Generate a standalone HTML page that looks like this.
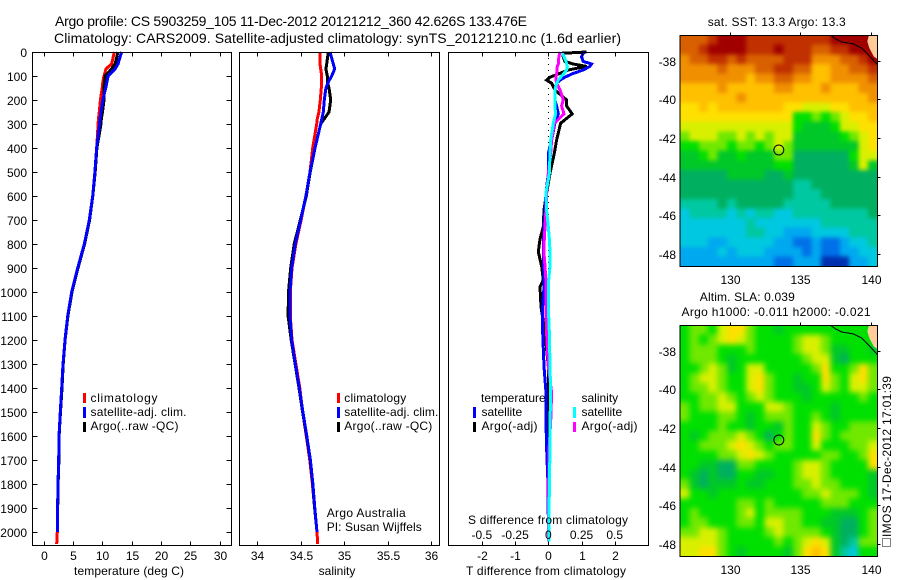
<!DOCTYPE html>
<html>
<head>
<meta charset="utf-8">
<title>Argo profile</title>
<style>
html,body{margin:0;padding:0;background:#fff;}
svg{display:block;font-family:"Liberation Sans",sans-serif;font-size:12px;fill:#000;}
.m{text-anchor:middle;}
.e{text-anchor:end;}
</style>
</head>
<body>
<svg id="chart" xmlns="http://www.w3.org/2000/svg" width="900" height="580" viewBox="0 0 900 580">
<defs>
<filter id="blur-sst" filterUnits="userSpaceOnUse" x="640" y="0" width="260" height="580" color-interpolation-filters="sRGB"><feGaussianBlur stdDeviation="2"/></filter>
<filter id="blur-sla" filterUnits="userSpaceOnUse" x="640" y="0" width="260" height="580" color-interpolation-filters="sRGB"><feGaussianBlur stdDeviation="3"/></filter>
<clipPath id="clip-sst"><rect x="680" y="35" width="197.5" height="232"/></clipPath>
<clipPath id="clip-sla"><rect x="680" y="325" width="197.5" height="232"/></clipPath>
</defs>
<rect width="900" height="580" fill="#fff"/>
<g id="layer-maps"></g>
<g id="layer-lines"></g>
<g id="layer-axes"></g>
<text x="55" y="26" font-size="14" textLength="472">Argo profile: CS 5903259_105 11-Dec-2012 20121212_360 42.626S 133.476E</text>
<text x="54" y="43" font-size="14" textLength="567">Climatology: CARS2009. Satellite-adjusted climatology: synTS_20121210.nc (1.6d earlier)</text>

<text class="m" x="129" y="575" textLength="110">temperature (deg C)</text>
<text class="m" x="337" y="575">salinity</text>
<text class="m" x="546" y="575" textLength="160">T difference from climatology</text>
<text class="m" x="548" y="524" textLength="160">S difference from climatology</text>

<g>
<rect x="83" y="393" width="3" height="10" fill="#f00"/>
<rect x="83" y="407" width="3" height="11" fill="#00f"/>
<rect x="83" y="422" width="3" height="10" fill="#000"/>
<text x="90.5" y="402" textLength="67">climatology</text>
<text x="90.5" y="416" textLength="96">satellite-adj. clim.</text>
<text x="90.5" y="430" textLength="88">Argo(..raw -QC)</text>
</g>
<g>
<rect x="337" y="393" width="3" height="10" fill="#f00"/>
<rect x="337" y="407" width="3" height="11" fill="#00f"/>
<rect x="337" y="422" width="3" height="10" fill="#000"/>
<text x="344.3" y="402" textLength="62">climatology</text>
<text x="344.3" y="416" textLength="94">satellite-adj. clim.</text>
<text x="344.3" y="430" textLength="88">Argo(..raw -QC)</text>
</g>
<text x="326.7" y="517" textLength="79">Argo Australia</text>
<text x="326.7" y="531" textLength="95">PI: Susan Wijffels</text>
<g>
<text x="481" y="402">temperature</text>
<text x="581.5" y="402">salinity</text>
<rect x="473" y="407" width="3" height="11" fill="#00f"/>
<rect x="473" y="422" width="3" height="10" fill="#000"/>
<rect x="573" y="407" width="3" height="11" fill="#0ff"/>
<rect x="573" y="422" width="3" height="10" fill="#f0f"/>
<text x="481.5" y="416">satellite</text>
<text x="481.5" y="430" textLength="56">Argo(-adj)</text>
<text x="581.5" y="416">satellite</text>
<text x="581.5" y="430" textLength="56">Argo(-adj)</text>
</g>

<text class="m" x="776.7" y="26" textLength="138">sat. SST: 13.3 Argo: 13.3</text>
<text class="m" x="747.3" y="301" textLength="95">Altim. SLA: 0.039</text>
<text class="m" x="776" y="316" textLength="189">Argo h1000: -0.011 h2000: -0.021</text>
<g transform="translate(891,537) rotate(-90)">
<text x="0" y="0" textLength="161">IMOS 17-Dec-2012 17:01:39</text>
<rect x="-9.5" y="-8.5" width="8" height="8" fill="none" stroke="#000" stroke-width="1" stroke-dasharray="1 1"/>
</g>
</svg>
<script>
// ---- profile data (depth in m) ----
var profileDepths = [0,50,70,100,125,150,200,250,280,300,400,500,600,700,800,900,1000,1100,1200,1300,1400,1500,1600,1700,1800,1900,2000,2050];
var tempClim = [12.07,11.6,10.65,10.3,10.1,10.0,9.7,9.5,9.35,9.3,9.06,8.76,8.38,7.81,6.95,5.83,4.8,4.12,3.66,3.32,3.1,2.86,2.64,2.59,2.47,2.4,2.35,2.25];
var tempSat = [13.3,12.7,12.2,11.0,10.8,10.6,10.1,9.8,9.6,9.55,9.05,8.76,8.38,7.81,6.95,5.83,4.8,4.12,3.66,3.32,3.1,2.86,2.64,2.59,2.47,2.4,2.35,null];
var tempArgo = [12.7,12.2,11.6,10.5,10.4,10.3,10.3,10.05,9.85,9.8,9.1,8.8,8.4,7.85,7.0,5.88,4.85,4.15,3.68,3.36,3.16,2.9,2.66,2.62,2.48,2.42,2.35,null];
var salClim = [34.722,34.722,34.73,34.742,34.742,34.737,34.726,34.71,34.69,34.684,34.638,34.607,34.56,34.505,34.445,34.4,34.38,34.38,34.4,34.445,34.49,34.523,34.565,34.605,34.635,34.66,34.688,34.696];
var salSat = [34.838,34.876,34.892,34.857,34.818,34.79,34.772,34.76,34.742,34.73,34.665,34.607,34.56,34.5,34.438,34.396,34.377,34.377,34.396,34.438,34.484,34.525,34.57,34.612,34.64,34.662,34.688,null];
var salArgo = [34.818,34.8,34.79,34.806,34.806,34.826,34.846,34.826,34.768,34.73,34.665,34.61,34.565,34.495,34.425,34.385,34.36,34.355,34.39,34.435,34.48,34.522,34.568,34.61,34.638,34.66,34.688,null];

var diffDepths = [0,5,20,39,50,60,75,89,105,117,130,158,200,225,258,297,367,422,505,588,658,728,780,832,894,950,978,1061,1172,1310,1420,1540,1650,1800,1950,2040];
var diffTArgo = [1.15,0.45,0.45,0.5,0.75,1.15,0.6,0.35,0.05,-0.05,0.1,0.2,0.55,0.55,0.72,0.37,0.25,0.18,0.05,-0.05,-0.13,-0.15,-0.25,-0.3,-0.2,-0.15,-0.25,-0.22,-0.1,0,0,0,0,0,0,0];
var diffTSat = [1.1,1.05,1.0,1.05,1.3,1.25,1.05,0.75,0.5,0.35,0.25,0.2,0.2,0.25,0.3,0.2,0.1,0,0,-0.07,-0.1,-0.13,-0.14,-0.15,-0.14,-0.13,-0.13,-0.17,-0.17,-0.13,-0.07,-0.07,-0.05,-0.01,0,0];
var diffSArgo = [0.088,0.085,0.08,0.075,0.075,0.068,0.065,0.063,0.058,0.058,0.063,0.088,0.113,0.1,0.118,0.045,0.025,0.018,0,-0.012,-0.018,-0.025,-0.03,-0.033,-0.025,-0.018,-0.018,-0.018,-0.013,0,0.025,0.018,0.006,0.003,0.003,0.003];
var diffSSat = [0.108,0.108,0.118,0.133,0.138,0.143,0.138,0.118,0.093,0.075,0.063,0.05,0.05,0.05,0.055,0.038,0.018,0.013,0.008,-0.018,-0.013,0,0.008,0.013,0.013,0.003,0.003,0,0.008,0.013,0.018,0.013,0.013,0.008,0.005,0.005];

// ---- tick labels ----
var depthTicks = [0,100,200,300,400,500,600,700,800,900,1000,1100,1200,1300,1400,1500,1600,1700,1800,1900,2000];
var tempTicks = [0,5,10,15,20,25,30];
var salTicks = [34,34.5,35,35.5,36];
var diffTTicks = [-2,-1,0,1,2];
var diffSTicks = [-0.5,-0.25,0,0.25,0.5];
var mapLonTicks = [130,135,140];
var mapLatTicks = [-38,-40,-42,-44,-46,-48];
var argoLon = 133.476;
var argoLat = -42.626;

// ---- map data: colour-level per grid cell, north to south, west to east ----
var sstLevels = [
[13,13,13,14,15,15,15,14,14,14,14,14,14,14,14,14,15,15,15,15,15],
[13,13,14,15,15,15,15,14,14,14,15,14,14,14,13,13,14,14,15,15,15],
[12,13,13,14,14,13,14,13,13,13,13,14,14,14,12,12,12,13,13,14,15],
[12,12,12,12,13,12,12,12,13,13,14,14,13,13,11,11,12,12,13,13,14],
[12,12,12,12,12,12,12,11,12,12,13,13,12,12,11,11,12,12,12,12,13],
[11,11,11,11,12,11,11,11,11,11,12,12,11,11,11,12,11,11,11,12,12],
[11,11,11,11,11,11,12,11,11,11,11,11,11,11,11,11,11,11,11,11,12],
[10,10,11,10,11,11,11,11,11,11,11,10,10,9,9,9,10,10,11,11,11],
[10,10,10,10,10,10,10,10,10,10,10,10,7,7,8,7,8,9,10,10,11],
[9,9,9,9,9,9,9,9,9,9,9,9,7,6,6,6,7,9,9,10,10],
[8,9,9,9,8,8,9,8,9,8,9,9,6,6,6,6,6,7,8,9,10],
[7,7,8,8,8,7,8,8,7,8,9,8,6,6,6,6,6,6,6,9,10],
[6,6,7,8,6,6,7,6,6,6,8,8,5,5,5,5,5,5,7,9,9],
[6,6,6,6,6,6,6,6,6,6,7,7,5,5,5,5,5,5,6,9,6],
[5,5,5,5,5,6,6,6,6,5,5,6,5,5,5,5,5,5,5,5,5],
[5,5,5,5,5,5,5,5,5,5,5,5,4,4,5,5,5,5,5,5,5],
[5,5,5,5,5,5,5,5,5,5,5,5,4,4,4,5,5,5,5,5,5],
[4,4,4,4,5,4,5,5,5,5,5,4,4,4,4,4,5,5,5,5,5],
[3,4,4,4,4,3,4,3,4,4,3,3,4,4,4,4,4,4,4,4,5],
[3,3,3,3,3,3,3,4,3,3,3,3,3,3,3,4,4,4,4,4,4],
[3,3,3,3,3,3,3,4,4,3,3,2,2,2,3,3,3,3,4,4,4],
[3,3,3,2,2,3,3,3,3,3,2,2,1,1,2,1,1,2,3,3,4],
[2,2,2,2,3,2,3,3,3,2,2,2,2,1,2,1,1,2,2,3,3],
[2,2,2,2,2,2,2,2,2,2,1,1,2,2,2,0,0,0,2,2,3]
];
var slaLevels = [
[7,8,8,7,9,10,10,8,7,7,6,7,7,7,7,7,7,7,7,7,7],
[7,8,7,8,9,10,9,8,7,7,7,7,8,9,9,8,7,7,7,7,7],
[7,8,8,8,7,7,7,8,7,7,7,7,8,9,9,8,6,6,7,7,6],
[7,8,8,8,7,6,7,7,7,7,7,7,7,8,9,9,6,5,7,7,7],
[7,7,8,9,8,6,7,9,9,7,7,7,7,7,8,10,7,7,8,10,8],
[7,8,9,9,8,7,7,9,10,8,7,7,6,7,7,10,8,7,9,10,8],
[7,8,8,9,8,7,7,9,10,8,7,7,6,6,7,9,8,7,9,9,8],
[7,7,8,8,9,8,7,8,9,8,7,7,7,6,7,7,7,7,7,8,7],
[8,7,8,8,9,9,7,7,7,9,9,8,7,7,7,7,6,7,7,7,7],
[8,7,7,7,8,8,7,6,7,8,8,8,7,7,8,7,6,7,7,7,7],
[7,7,7,7,8,7,7,6,7,7,6,8,7,7,9,8,7,7,8,8,8],
[7,6,7,8,8,8,9,8,7,5,7,8,7,7,10,8,7,8,8,8,8],
[7,7,8,8,8,9,10,9,8,7,8,8,7,7,9,7,7,7,8,8,9],
[7,7,7,7,8,8,9,10,9,8,7,7,7,7,7,8,8,7,7,8,10],
[7,7,6,6,5,5,8,8,7,7,7,7,8,9,9,8,7,7,7,7,10],
[7,6,5,6,5,5,7,7,6,6,7,7,8,9,9,8,7,7,7,7,6],
[8,6,5,6,6,6,7,6,6,7,7,7,8,8,9,8,8,7,7,7,6],
[9,7,7,6,7,7,7,7,7,7,7,7,7,8,8,9,8,8,8,7,6],
[7,7,7,7,7,7,8,8,7,8,7,7,7,7,7,8,8,8,7,7,7],
[7,8,7,7,7,7,8,9,7,8,8,8,8,7,7,7,6,6,6,7,8],
[7,8,8,7,7,7,8,8,7,9,9,8,8,7,7,6,6,5,5,7,8],
[8,8,9,9,8,7,7,7,7,8,9,8,8,8,8,7,6,5,5,7,8],
[9,9,9,9,8,7,7,7,7,7,8,7,8,9,10,9,6,5,4,8,8],
[9,9,10,10,8,7,6,7,7,7,7,6,8,10,11,10,6,4,3,7,7]
];
var levelColors = ["#0030b0","#0070e8","#00a8f0","#00c8e0","#00c8a0","#00b060","#00c828","#00e000","#70e800","#d8f000","#ffe000","#ffc000","#f09000","#d86000","#c03000","#a00000"];
var coastLon = [137.1,137.5,137.93,138.75,139.34,139.93,140.45];
var coastLat = [-36.67,-36.87,-37.03,-37.13,-37.34,-37.78,-38.2];
var landLon = [139.86,139.74,139.88,140.2,140.45,140.45];
var landLat = [-36.67,-37,-37.34,-37.78,-37.91,-36.67];

// ---- scales ----
var NS = "http://www.w3.org/2000/svg";
var plotTop = 52, plotBottom = 545;
function yDepth(d){ return 52 + 0.24*d; }
function xTemp(t){ return 43.5 + 5.87*t; }
function xSal(s){ return 257.3 + 86.8*(s-34); }
function xDiffT(t){ return 548.3 + 33.2*t; }
function xDiffS(s){ return 548.3 + 132.8*s; }
function xLon(lon){ return 729.7 + 14.13*(lon-130); }
function mapY(top){ return function(lat){ return top + 25.7 + 19.3*(-38-lat); }; }
var lonMin = 126.48, lonMax = 140.45, latMax = -36.67, latMin = -48.65;

function make(tag, parent, attrs){
  var e = document.createElementNS(NS, tag);
  for (var k in attrs) e.setAttribute(k, attrs[k]);
  parent.appendChild(e);
  return e;
}
var lines = document.getElementById("layer-lines");
var axes = document.getElementById("layer-axes");
var maps = document.getElementById("layer-maps");

function drawLine(depths, values, xf, color, name, width){
  var pts = [];
  for (var i = 0; i < depths.length; i++){
    if (values[i] === null) continue;
    pts.push(xf(values[i]).toFixed(1) + "," + yDepth(depths[i]).toFixed(1));
  }
  var p = make("polyline", lines, {points: pts.join(" "), fill: "none", stroke: color, "stroke-width": width, "shape-rendering": "crispEdges", "stroke-linejoin": "miter"});
  
  
}
function tick(x1, y1, x2, y2, name){
  var l = make("line", axes, {x1: x1, y1: y1, x2: x2, y2: y2, stroke: "#000", "stroke-width": 1, "shape-rendering": "crispEdges"});
  
  
}
function label(x, y, str, anchor, name){
  var t = make("text", axes, {x: x, y: y, "text-anchor": anchor});
  t.textContent = str;
  
  
}
function frame(x, y, w, h, name){
  var r = make("rect", axes, {x: x, y: y, width: w, height: h, fill: "none", stroke: "#000", "stroke-width": 1, "shape-rendering": "crispEdges"});
  
  
}

// ---- profile panels ----
var LW = 3;
drawLine(profileDepths, tempClim, xTemp, "#f00", "temperature-climatology-line", LW);
drawLine(profileDepths, tempArgo, xTemp, "#000", "temperature-argo-line", LW);
drawLine(profileDepths, tempSat, xTemp, "#00f", "temperature-satellite-line", LW);
drawLine(profileDepths, salClim, xSal, "#f00", "salinity-climatology-line", LW);
drawLine(profileDepths, salArgo, xSal, "#000", "salinity-argo-line", LW);
drawLine(profileDepths, salSat, xSal, "#00f", "salinity-satellite-line", LW);

var zeroLine = make("line", lines, {x1: xDiffT(0), y1: plotTop, x2: xDiffT(0), y2: plotBottom, stroke: "#000", "stroke-width": 1, "stroke-dasharray": "1 5", "shape-rendering": "crispEdges"});


drawLine(diffDepths, diffTArgo, xDiffT, "#000", "t-difference-argo-line", LW);
drawLine(diffDepths, diffTSat, xDiffT, "#00f", "t-difference-satellite-line", LW);
drawLine(diffDepths, diffSArgo, xDiffS, "#f0f", "s-difference-argo-line", LW);
drawLine(diffDepths, diffSSat, xDiffS, "#0ff", "s-difference-satellite-line", LW);

frame(32.5, 52.5, 199, 493, "temperature-panel-frame");
frame(239.5, 52.5, 200, 493, "salinity-panel-frame");
frame(448.5, 52.5, 200, 493, "difference-panel-frame");

depthTicks.forEach(function(d){
  var y = Math.round(yDepth(d)) + 0.5;
  tick(32.5, y, 37.5, y, "depth-tick-left");
  tick(226.5, y, 231.5, y, "depth-tick-right");
  label(27, y + 4.5, String(d), "end", "depth-tick-label");
});
tempTicks.forEach(function(t){
  var x = Math.round(xTemp(t)) + 0.5;
  tick(x, 52.5, x, 56.5, "temperature-tick-top");
  tick(x, 541.5, x, 545.5, "temperature-tick-bottom");
  label(x, 560, String(t), "middle", "temperature-tick-label");
});
salTicks.forEach(function(s){
  var x = Math.round(xSal(s)) + 0.5;
  tick(x, 52.5, x, 56.5, "salinity-tick-top");
  tick(x, 541.5, x, 545.5, "salinity-tick-bottom");
  label(x, 560, String(s), "middle", "salinity-tick-label");
});
diffTTicks.forEach(function(t){
  var x = Math.round(xDiffT(t)) + 0.5;
  tick(x, 52.5, x, 56.5, "difference-tick-top");
  tick(x, 541.5, x, 545.5, "difference-tick-bottom");
  label(x, 560, String(t), "middle", "t-difference-tick-label");
});
diffSTicks.forEach(function(s){
  label(xDiffS(s), 539, String(s), "middle", "s-difference-tick-label");
});

// ---- maps ----
function drawMap(levels, top, mapName, blurId, clipId){
  var y = mapY(top);
  var rows = levels.length, cols = levels[0].length;
  var dLon = (lonMax-lonMin)/cols, dLat = (latMax-latMin)/rows;
  var clipGroup = make("g", maps, {"clip-path": "url(#" + clipId + ")"});
  
  
  var cellGroup = make("g", clipGroup, {filter: "url(#" + blurId + ")"});
  
  
  for (var r = 0; r < rows; r++){
    for (var c = 0; c < cols; c++){
      var x0 = xLon(lonMin + c*dLon), x1 = xLon(lonMin + (c+1)*dLon);
      var y0 = y(latMax - r*dLat), y1 = y(latMax - (r+1)*dLat);
      if (c === 0) x0 -= 12;
      if (c === cols-1) x1 += 12;
      if (r === 0) y0 -= 12;
      if (r === rows-1) y1 += 12;
      var cell = make("rect", cellGroup, {x: x0.toFixed(2), y: y0.toFixed(2), width: (x1-x0+0.5).toFixed(2), height: (y1-y0+0.5).toFixed(2), fill: levelColors[levels[r][c]], "shape-rendering": "crispEdges"});
      
      
    }
  }
  var landPts = landLon.map(function(l, i){ return xLon(l).toFixed(1) + "," + y(landLat[i]).toFixed(1); }).join(" ");
  var land = make("polygon", clipGroup, {points: landPts, fill: "#ffcc99", stroke: "none"});
  
  
  var coastPts = coastLon.map(function(l, i){ return xLon(l).toFixed(1) + "," + y(coastLat[i]).toFixed(1); }).join(" ");
  var coast = make("polyline", clipGroup, {points: coastPts, fill: "none", stroke: "#000", "stroke-width": 1});
  
  
  frame(680, top + 0.5, 197.5, 231, mapName + "-frame");
  mapLonTicks.forEach(function(l){
    var x = Math.round(xLon(l)) + 0.5;
    tick(x, top - 2.5, x, top + 0.5, mapName + "-lon-tick");
    label(x, top + 249, String(l), "middle", mapName + "-lon-label");
  });
  mapLatTicks.forEach(function(l){
    var yy = Math.round(y(l)) + 0.5;
    tick(877.5, yy, 880.5, yy, mapName + "-lat-tick");
    label(676, yy + 4.5, String(l), "end", mapName + "-lat-label");
  });
  var marker = make("circle", axes, {cx: xLon(argoLon), cy: y(argoLat), r: 5, fill: "none", stroke: "#000", "stroke-width": 1});
  
  
}
drawMap(sstLevels, 35, "sst-map", "blur-sst", "clip-sst");
drawMap(slaLevels, 325, "sla-map", "blur-sla", "clip-sla");
</script>
</body>
</html>
